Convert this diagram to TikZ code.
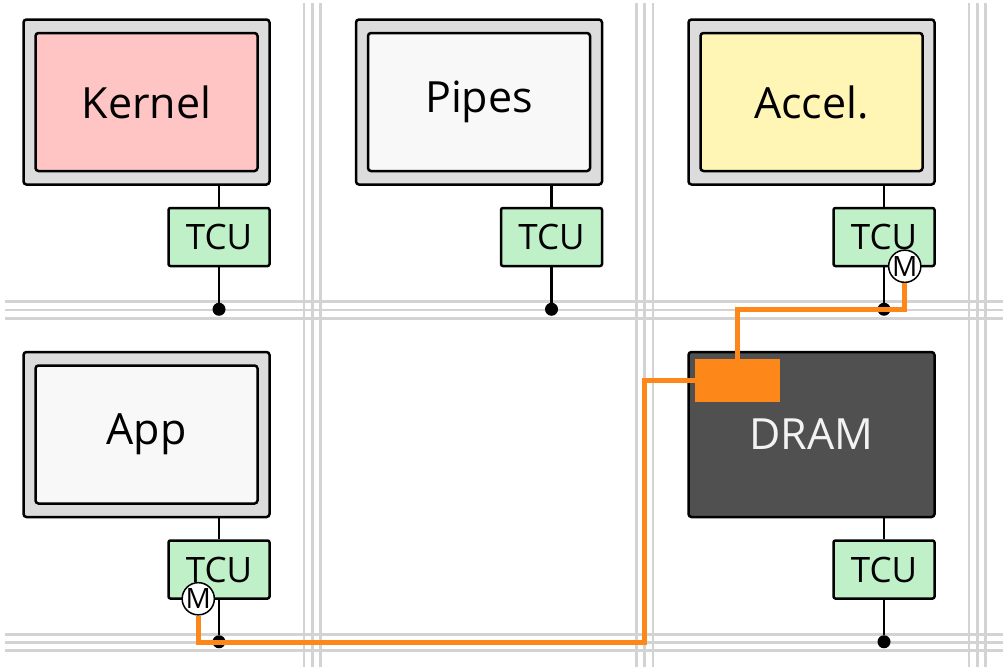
\documentclass[tikz,border=0pt]{standalone}
\usepackage{fontspec}
\setmainfont{Open Sans}
\usepackage{tikz}
\usetikzlibrary{positioning, calc}
\definecolor{cGrid}{RGB}{211,211,211}
\definecolor{cFrame}{RGB}{220,220,220}
\definecolor{cKernel}{RGB}{255,196,196}
\definecolor{cPlain}{RGB}{248,248,248}
\definecolor{cAccel}{RGB}{255,245,180}
\definecolor{cTcu}{RGB}{192,240,200}
\definecolor{cDram}{RGB}{80,80,80}
\definecolor{cDramText}{RGB}{242,242,242}
\definecolor{cRoute}{RGB}{253,135,25}
\tikzset{
	tileframe/.style={rectangle, rounded corners=3pt, draw=black, line width=2.5pt, fill=cFrame, minimum width=246pt, minimum height=165pt, font=\fontsize{43}{50}\selectfont},
	core/.style     ={rectangle, rounded corners=3pt, draw=black, line width=2.5pt, minimum width=222pt, minimum height=138pt, font=\fontsize{43}{50}\selectfont},
	tcu/.style      ={rectangle, rounded corners=2pt, draw=black, line width=2.5pt, fill=cTcu, minimum width=101pt, minimum height=58pt, font=\fontsize{35}{40}\selectfont},
	tap/.style      ={circle, fill=black, minimum size=13pt, inner sep=0pt},
	wire/.style     ={line width=2.8pt},
	% network rails and the memory route
	rail/.style     ={cGrid, line width=2.7pt},
	mroute/.style   ={cRoute, line width=5pt},
	mport/.style    ={circle, draw=black, line width=1.5pt, fill=white, minimum size=30pt, inner sep=0pt, font=\fontsize{28}{30}\selectfont},
	dmablk/.style   ={rectangle, fill=cRoute, inner sep=0pt, minimum width=85pt, minimum height=43pt, anchor=north west},
}

\begin{document}
\begin{tikzpicture}[x=1pt, y=-1pt]
	\useasboundingbox (0,0) rectangle (1003,667);
	% triple rails between the tiles
	\foreach \k in {0,1,2} \foreach \d in {-8.3,0,8.3} {
		\draw[rail] ({312.3+\k*332.5+\d},3) -- ({312.3+\k*332.5+\d},667);
	}
	\foreach \k in {0,1} \foreach \d in {-8.3,0,8.3} {
		\draw[rail] (5,{310+\k*332.5+\d}) -- (1003,{310+\k*332.5+\d});
	}
	% tiles with their TCUs
	\foreach \id/\col/\row/\fc/\txt in {kern/0/0/cKernel/Kernel, pipe/1/0/cPlain/Pipes, accl/2/0/cAccel/Accel., app/0/1/cPlain/App} {
		\pgfmathsetmacro{\x}{146.5+\col*332.5}
		\pgfmathsetmacro{\y}{102+\row*332.5}
		\node[tileframe] (\id) at (\x,\y) {};
		\node[core, fill=\fc] (core\id) at (\id.center) {\txt};
		\node[tcu, below left=21pt and 0pt of \id.south east] (tcu\id) {TCU};
		\node[tap] (tap\id) at ($(tcu\id.south)+(0,42)$) {};
		\draw[wire] (tcu\id.north |- \id.south) -- (tcu\id.north);
		\draw[wire] (tcu\id) -- (tap\id);
	}
	% memory tile
	\node[tileframe, fill=cDram, text=cDramText] (dram) at (811.5,434.5) {DRAM};
	\node[tcu, below left=21pt and 0pt of dram.south east] (tcudram) {TCU};
	\node[tap] (tapdram) at ($(tcudram.south)+(0,42)$) {};
	\draw[wire] (tcudram.north |- dram.south) -- (tcudram.north);
	\draw[wire] (tcudram) -- (tapdram);
	\node[dmablk] (dma) at ($(dram.north west)+(8,8)$) {};
	% memory ports and their routes
	\node[mport] (maccl) at ($(tcuaccl.south east)+(-31,-1)$) {M};
	\node[mport] (mapp) at ($(tcuapp.south west)+(31,-1)$) {M};
	\coordinate (bend) at (644.8,642.5);
	\draw[mroute] (maccl.south) |- (dma.north |- tapaccl) -- (dma.north);
	\draw[mroute] (dma.west) -| (bend) -| (mapp.south);
\end{tikzpicture}
\end{document}
